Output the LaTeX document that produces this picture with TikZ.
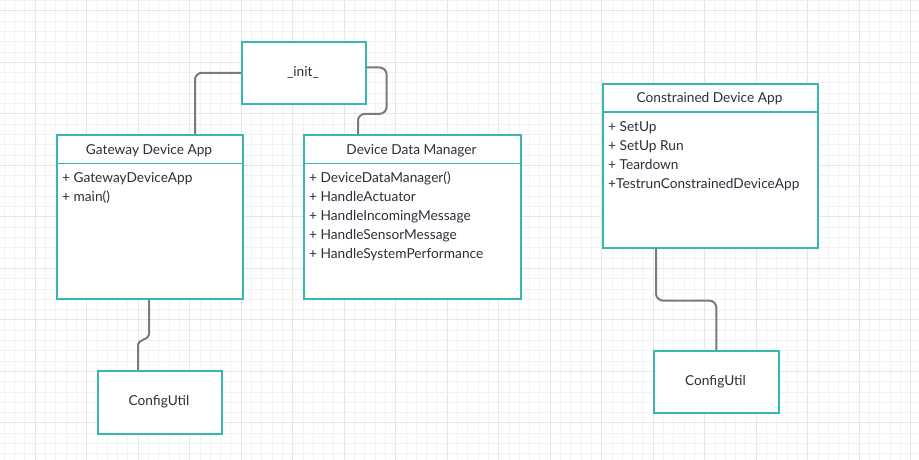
\documentclass[tikz,border=0pt]{standalone}
\usepackage{fontspec}
\setmainfont{Lato}
\definecolor{tealb}{HTML}{38B6B1}
\definecolor{conng}{HTML}{7B7B7B}
\definecolor{txtc}{HTML}{2A303A}
\definecolor{gridmin}{HTML}{F2F2F2}
\definecolor{gridmaj}{HTML}{E6E6E6}
\tikzset{
  box/.style={draw=tealb, line width=1.6pt, fill=white, rectangle, inner sep=0pt, anchor=north west},
  sepline/.style={draw=tealb, line width=1.6pt},
  conn/.style={draw=conng, line width=2pt, rounded corners=7pt},
  txt/.style={font=\fontsize{13.7}{15}\selectfont, text=txtc, inner sep=0pt},
  item/.style={txt, anchor=base west},
  gmin/.style={draw=gridmin, line width=0.6pt},
  gmaj/.style={draw=gridmaj, line width=1pt}
}
\begin{document}
\begin{tikzpicture}[x=1pt,y=-1pt]
\useasboundingbox[fill=white] (0,0) rectangle (919,460);
% grid
\foreach \k in {0,...,88} {
  \pgfmathsetmacro{\xx}{4.1+10.3*\k}
  \pgfmathtruncatemacro{\mm}{mod(\k+2,5)}
  \ifnum\mm=0 \draw[gmaj] (\xx,0) -- (\xx,460); \else \draw[gmin] (\xx,0) -- (\xx,460); \fi
}
\foreach \k in {0,...,44} {
  \pgfmathsetmacro{\yy}{0.4+10.3*\k}
  \pgfmathtruncatemacro{\mm}{mod(\k+4,5)}
  \ifnum\mm=0 \draw[gmaj] (0,\yy) -- (919,\yy); \else \draw[gmin] (0,\yy) -- (919,\yy); \fi
}
% boxes
\node[box, minimum width=124pt, minimum height=62pt] (init) at (241,41) {};
\node[txt] (initt) at (303,72) {\_init\_};
\node[box, minimum width=186pt, minimum height=164pt] (gw) at (56,134) {};
\node[box, minimum width=217pt, minimum height=164pt] (ddm) at (303,134) {};
\node[box, minimum width=215pt, minimum height=164pt] (cda) at (602,83) {};
\node[box, minimum width=124pt, minimum height=63pt] (cfgL) at (97,370) {};
\node[box, minimum width=125pt, minimum height=62pt] (cfgR) at (653,350) {};
% separators
\draw[sepline] ([yshift=-29.5pt]gw.north west) -- ([yshift=-29.5pt]gw.north east);
\draw[sepline] ([yshift=-29.5pt]ddm.north west) -- ([yshift=-29.5pt]ddm.north east);
\draw[sepline] ([yshift=-29pt]cda.north west) -- ([yshift=-29pt]cda.north east);
% titles
\node[txt, anchor=base] (gwt) at (149,154) {Gateway Device App};
\node[txt, anchor=base] (ddmt) at (411.5,154) {Device Data Manager};
\node[txt, anchor=base] (cdat) at (709.5,102.5) {Constrained Device App};
\node[txt] (cfgLt) at (159,402) {ConfigUtil};
\node[txt] (cfgRt) at (715.5,381.5) {ConfigUtil};
% items
\node[item] (g1) at (62,182.5) {+ GatewayDeviceApp};
\node[item] (g2) at (62,201.5) {+ main()};
\node[item] (d1) at (309,182.5) {+ DeviceDataManager()};
\node[item] (d2) at (309,201.5) {+ HandleActuator};
\node[item] (d3) at (309,220.5) {+ HandleIncomingMessage};
\node[item] (d4) at (309,239.5) {+ HandleSensorMessage};
\node[item] (d5) at (309,258.5) {+ HandleSystemPerformance};
\node[item] (c1) at (608,131.5) {+ SetUp};
\node[item] (c2) at (608,150.5) {+ SetUp Run};
\node[item] (c3) at (608,169.5) {+ Teardown};
\node[item] (c4) at (608,188.5) {+TestrunConstrainedDeviceApp};
% connectors
\draw[conn] (init.west) -| ([xshift=139pt]gw.north west);
\draw[conn] ([yshift=5.3pt]init.east) -- ++(20,0) -- ++(0,46.3) -| ([xshift=55pt]ddm.north west);
\draw[conn] ([xshift=93pt]gw.south west) -- ++(0,28) .. controls +(0,12) and +(0,-12) .. ++(-11,24) -- ([xshift=41pt]cfgL.north west);
\draw[conn] ([xshift=54pt]cda.south west) -- ++(0,52) -| (cfgR.north);
\end{tikzpicture}
\end{document}
